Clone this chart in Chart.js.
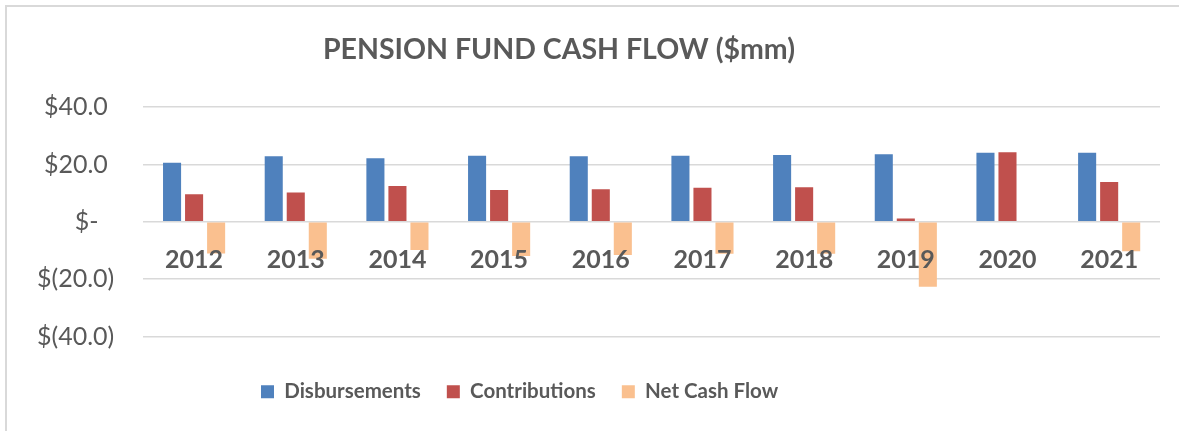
<!DOCTYPE html>
<html>
<head>
<meta charset="utf-8">
<title>Pension Fund Cash Flow</title>
<script src="https://cdn.jsdelivr.net/npm/chart.js@4/dist/chart.umd.min.js"></script>
<style>
    html, body { margin: 0; padding: 0; background: #ffffff; overflow: hidden; }
    #wrap { position: relative; width: 1179px; height: 431px; }
    #frame {
        position: absolute; left: 5px; top: 5px; width: 1300px; height: 500px;
        border-left: 2px solid #d9d9d9; border-top: 2px solid #d9d9d9;
        pointer-events: none;
    }
</style>
</head>
<body>
<div id="wrap">
    <canvas id="cashflow" width="1179" height="431"></canvas>
    <div id="frame"></div>
</div>
<script>
var years = ['2012', '2013', '2014', '2015', '2016', '2017', '2018', '2019', '2020', '2021'];
var disbursements = [20.6, 22.9, 22.2, 23.1, 22.9, 23.1, 23.3, 23.6, 24.1, 24.1];
var contributions = [9.6, 10.2, 12.5, 11.1, 11.4, 11.9, 12.1, 1.2, 24.3, 13.9];
var netCashFlow   = [-11.0, -12.9, -9.8, -11.9, -11.6, -11.1, -11.1, -22.6, 0.0, -10.3];

var yTickValues = [40, 20, 0, -20, -40];
var yTickLabels = ['$40.0 ', '$20.0 ', '$-\u2002\u2009', '$(20.0)', '$(40.0)'];

// Excel puts the title and legend a bit left of the canvas centre
var excelAlign = {
    id: 'excelAlign',
    afterLayout: function(chart) {
        if (chart.titleBlock) {
            chart.titleBlock.right = 1110;
        }
        if (chart.legend) {
            chart.legend.left = 235;
        }
    }
};

var CashFlowChart = function(ctx){
    this._ctx = document.getElementById(ctx).getContext('2d');
    this._chart = {};
    this.init();
};

CashFlowChart.prototype.init = function() {
    Chart.defaults.font.family = "Lato";
    Chart.defaults.color = "#595959";

    this._chart = new Chart(this._ctx, {
        type: 'bar',
        data: {
            labels: years,
            datasets: [{
                label: 'Disbursements',
                data: disbursements,
                backgroundColor: "#4f81bd"
            }, {
                label: 'Contributions',
                data: contributions,
                backgroundColor: "#c0504d"
            }, {
                label: 'Net Cash Flow',
                data: netCashFlow,
                backgroundColor: "#fac08f"
            }]
        },
        plugins: [excelAlign],
        options: {
            responsive: false,
            animation: false,
            categoryPercentage: 0.65,
            barPercentage: 0.82,
            layout: {
                padding: { left: 8, right: 19, top: 0, bottom: 19 }
            },
            plugins: {
                title: {
                    display: true,
                    text: 'PENSION FUND CASH FLOW ($mm)',
                    font: { size: 28.5, weight: 'bold' },
                    color: "#595959",
                    padding: { top: 33, bottom: 40 }
                },
                legend: {
                    display: true,
                    position: "bottom",
                    align: "start",
                    title: {
                        // blank title, only a spacer above the items
                        display: true,
                        text: ' ',
                        font: { size: 10, lineHeight: 1 },
                        padding: { top: 9, bottom: 0 }
                    },
                    labels: {
                        boxWidth: 13,
                        boxHeight: 13,
                        padding: 26,
                        color: "#595959",
                        font: { size: 20.5, weight: 'bold' }
                    }
                },
                tooltip: { enabled: false }
            },
            scales: {
                x: {
                    position: { y: 0 },
                    grid: { display: false, drawTicks: false },
                    border: { display: false },
                    ticks: {
                        z: 1,
                        padding: 23,
                        color: "#595959",
                        font: { size: 25, weight: 'bold' }
                    }
                },
                y: {
                    min: -40,
                    max: 40,
                    grid: { color: "#d9d9d9", lineWidth: 1.5, drawTicks: false },
                    border: { display: false },
                    afterBuildTicks: function(axis) {
                        axis.ticks = yTickValues.map(function(v){ return { value: v }; });
                    },
                    ticks: {
                        padding: 29,
                        color: "#595959",
                        font: { size: 25 },
                        callback: function(value) {
                            var i = yTickValues.indexOf(value);
                            return i < 0 ? '' : yTickLabels[i];
                        }
                    }
                }
            }
        }
    });
};

var cashFlow = new CashFlowChart('cashflow');
</script>
</body>
</html>
